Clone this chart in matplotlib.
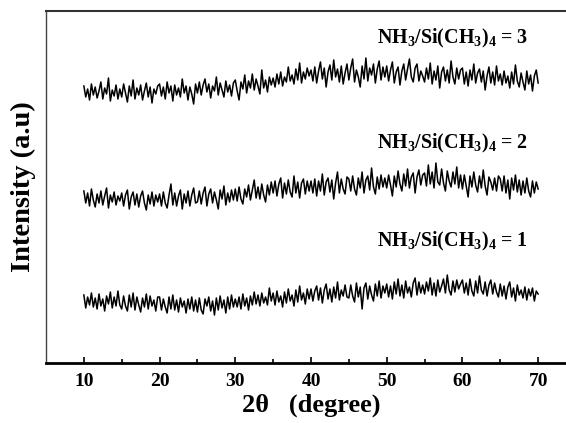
import numpy as np
import matplotlib
matplotlib.use("Agg")
import matplotlib.pyplot as plt

plt.rcParams['font.family'] = ['Liberation Serif', 'DejaVu Serif']
plt.rcParams['mathtext.fontset'] = 'custom'
plt.rcParams['mathtext.rm'] = 'Liberation Serif:bold'
plt.rcParams['mathtext.it'] = 'Liberation Serif:bold'
plt.rcParams['mathtext.bf'] = 'Liberation Serif:bold'
plt.rcParams['mathtext.default'] = 'rm'

# 2-theta grid (10..70 deg, 0.25 deg step)
two_theta = [10 + 0.25 * i for i in range(241)]

series_3 = [
    277,266,274,263,279,268,276,265,272,281,264,275,269,285,262,273,267,278,264,274,
    266,279,270,261,277,267,283,264,275,268,278,263,272,280,266,276,260,274,269,277,
    279,267,276,264,281,270,277,262,278,268,275,266,284,270,277,263,276,269,259,279,
    270,281,268,278,284,271,279,265,277,272,286,268,280,273,266,282,271,278,267,280,
    283,272,263,281,274,288,270,282,275,289,273,284,277,269,293,275,283,271,286,278,
    285,276,289,279,291,277,286,281,296,282,288,279,294,283,300,280,291,284,295,287,
    293,282,296,280,292,301,284,295,276,291,298,283,303,286,294,281,297,279,290,299,
    283,295,304,281,293,286,276,297,284,305,282,295,288,299,280,294,302,283,296,286,
    297,282,293,301,280,291,296,278,292,299,283,294,304,286,281,295,299,282,292,287,
    281,295,284,300,279,292,283,297,275,291,296,282,293,280,302,286,279,295,284,293,
    295,279,291,277,293,283,299,280,290,294,281,292,273,287,296,280,291,278,297,282,
    289,278,292,280,287,275,291,279,298,282,276,290,281,273,292,279,288,272,287,293,
    280,
]

series_2 = [
    172,160,170,157,174,163,156,169,160,172,158,167,175,155,168,161,171,158,167,162,
    170,157,168,173,154,166,171,158,169,156,167,172,160,153,168,159,171,157,168,161,
    169,157,171,160,155,168,179,158,170,157,167,173,154,169,160,172,157,168,175,160,
    161,172,159,170,176,157,169,174,160,171,163,154,173,164,177,158,170,161,173,163,
    174,162,176,164,159,174,166,178,163,173,183,165,176,164,179,168,161,178,168,181,
    170,182,167,179,185,165,180,169,183,171,166,187,170,181,165,180,184,169,182,172,
    182,170,184,167,182,172,189,168,181,185,171,183,164,180,191,170,184,174,169,186,
    184,172,187,174,168,185,175,191,170,183,187,173,195,176,169,186,174,188,176,185,
    175,188,178,167,187,176,192,179,172,189,177,194,175,186,190,170,186,193,178,188,
    190,177,198,179,191,175,200,181,178,194,180,172,192,182,176,191,179,196,175,188,
    174,188,177,166,187,176,191,178,171,187,175,193,177,168,186,181,173,185,172,187,
    184,172,187,170,183,164,185,173,188,171,183,168,182,170,185,172,166,182,170,181,
    174,
]

series_1 = [
    68,55,66,58,70,56,65,54,69,57,64,52,67,59,71,55,66,57,72,58,
    54,67,57,52,68,56,70,53,66,58,51,65,56,69,54,67,57,63,52,66,
    66,53,64,56,50,66,54,68,53,63,51,65,56,62,50,64,54,66,52,63,
    51,65,53,49,64,57,66,52,62,48,65,53,67,55,63,50,66,54,68,56,
    64,56,66,54,69,57,65,53,67,58,71,59,68,57,70,60,66,58,75,62,
    70,58,72,61,67,56,71,60,74,62,68,57,73,61,77,63,70,59,74,64,
    74,62,72,77,63,75,60,73,79,64,74,61,76,65,81,63,73,67,78,66,
    65,78,67,61,80,66,76,54,75,80,64,77,68,62,79,67,82,65,77,70,
    79,66,77,64,81,69,84,67,78,65,82,70,76,66,80,85,68,81,70,78,
    69,81,72,85,68,80,67,83,71,77,84,70,88,73,68,82,71,83,74,79,
    83,70,80,68,84,72,67,82,70,87,73,69,81,67,78,83,69,80,71,66,
    79,67,77,64,76,81,66,75,62,78,68,73,65,76,63,74,67,75,62,72,
    69,
]

labels = ["NH$_3$/Si(CH$_3$)$_4$ = 3",
          "NH$_3$/Si(CH$_3$)$_4$ = 2",
          "NH$_3$/Si(CH$_3$)$_4$ = 1"]
label_y = [325, 220, 122]
major_ticks = [10, 20, 30, 40, 50, 60, 70]
minor_ticks = [15, 25, 35, 45, 55, 65]

W, H = 566, 423
fig = plt.figure(figsize=(W / 100, H / 100), dpi=100)
ax = fig.add_axes([46 / W, 60 / H, 530 / W, 352 / H])

for s in (series_3, series_2, series_1):
    ax.plot(two_theta, s, color='black', lw=1.1)

for lab, yy in zip(labels, label_y):
    ax.text(48.7, yy, lab, fontsize=14.4, fontweight='bold', ha='left', va='center')

ax.set_xlim(5, 75)
ax.set_ylim(0, 352)
ax.set_xticks(major_ticks)
ax.set_xticks(minor_ticks, minor=True)
ax.set_yticks([])
ax.tick_params(axis='x', which='major', direction='in', length=4, width=1.2,
               pad=7, labelsize=14)
ax.tick_params(axis='x', which='minor', direction='in', length=3, width=1.2)
for t in ax.get_xticklabels():
    t.set_fontweight('bold')

ax.spines['bottom'].set_linewidth(2.0)
ax.spines['left'].set_linewidth(1.0)
ax.spines['left'].set_color('#444444')
ax.spines['top'].set_linewidth(1.5)
ax.spines['top'].set_color('#333333')
ax.spines['right'].set_visible(False)

ax.set_xlabel("2θ   (degree)", fontsize=19, fontweight='bold', labelpad=3)
ax.set_ylabel("Intensity (a.u)", fontsize=20.5, fontweight='bold', labelpad=7)

fig.savefig("out.png", dpi=100)
